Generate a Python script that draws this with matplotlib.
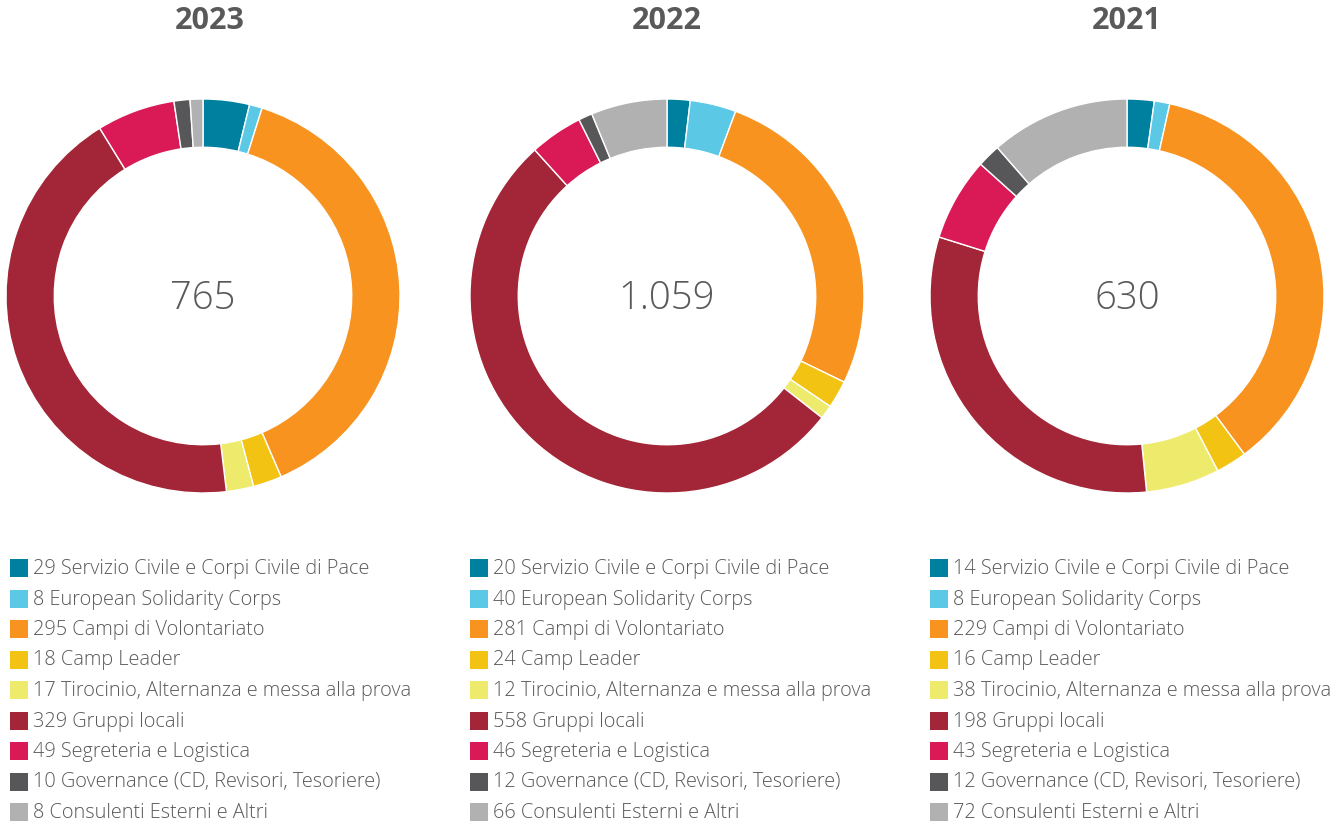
import matplotlib
matplotlib.use("Agg")
import matplotlib.pyplot as plt
from matplotlib.patches import Rectangle

plt.rcParams['font.family'] = ['Open Sans', 'DejaVu Sans']

years = ["2023", "2022", "2021"]
totals = ["765", "1.059", "630"]

categories = [
    "Servizio Civile e Corpi Civile di Pace",
    "European Solidarity Corps",
    "Campi di Volontariato",
    "Camp Leader",
    "Tirocinio, Alternanza e messa alla prova",
    "Gruppi locali",
    "Segreteria e Logistica",
    "Governance (CD, Revisori, Tesoriere)",
    "Consulenti Esterni e Altri",
]

values_2023 = [29, 8, 295, 18, 17, 329, 49, 10, 8]
values_2022 = [20, 40, 281, 24, 12, 558, 46, 12, 66]
values_2021 = [14, 8, 229, 16, 38, 198, 43, 12, 72]
series = [values_2023, values_2022, values_2021]

colors = ["#00809F", "#5BC9E6", "#F7931E", "#F3C313", "#EEEA6C",
          "#A32638", "#DA1A57", "#575759", "#B1B1B1"]

text_color = "#595959"

W, H = 1334, 827
fig = plt.figure(figsize=(W / 100, H / 100), dpi=100)

centers_x = [203, 667, 1127]
title_x = [210, 667, 1127]
center_y = 296
r_px = 197
legend_x = [10, 470, 930]
row_y0 = 568
row_step = 30.5
sq = 18

for i in range(3):
    cx = centers_x[i]
    ax = fig.add_axes([(cx - r_px) / W, (H - center_y - r_px) / H,
                       2 * r_px / W, 2 * r_px / H])
    ax.pie(series[i], colors=colors, startangle=90, counterclock=False,
           radius=1.0,
           wedgeprops=dict(width=0.245, edgecolor="white", linewidth=1.0))
    ax.set_xlim(-1.0, 1.0)
    ax.set_ylim(-1.0, 1.0)
    ax.set_aspect("equal")
    ax.axis("off")
    ax.text(0, -0.015, totals[i], ha="center", va="center", fontsize=27.5,
            color=text_color, fontweight="light")

    fig.text(title_x[i] / W, 1 - 21 / H, years[i], ha="center", va="center",
             fontsize=22, fontweight="bold", color=text_color)

    for j, (cat, v) in enumerate(zip(categories, series[i])):
        y = row_y0 + j * row_step
        fig.patches.append(Rectangle((legend_x[i] / W, 1 - (y + sq / 2) / H),
                                     sq / W, sq / H, transform=fig.transFigure,
                                     facecolor=colors[j], edgecolor="none"))
        fig.text((legend_x[i] + sq + 5) / W, 1 - (y + 1) / H, f"{v} {cat}",
                 ha="left", va="center", fontsize=14.3, color=text_color,
                 fontweight="light")

fig.savefig("out.png", dpi=100, facecolor="white")
